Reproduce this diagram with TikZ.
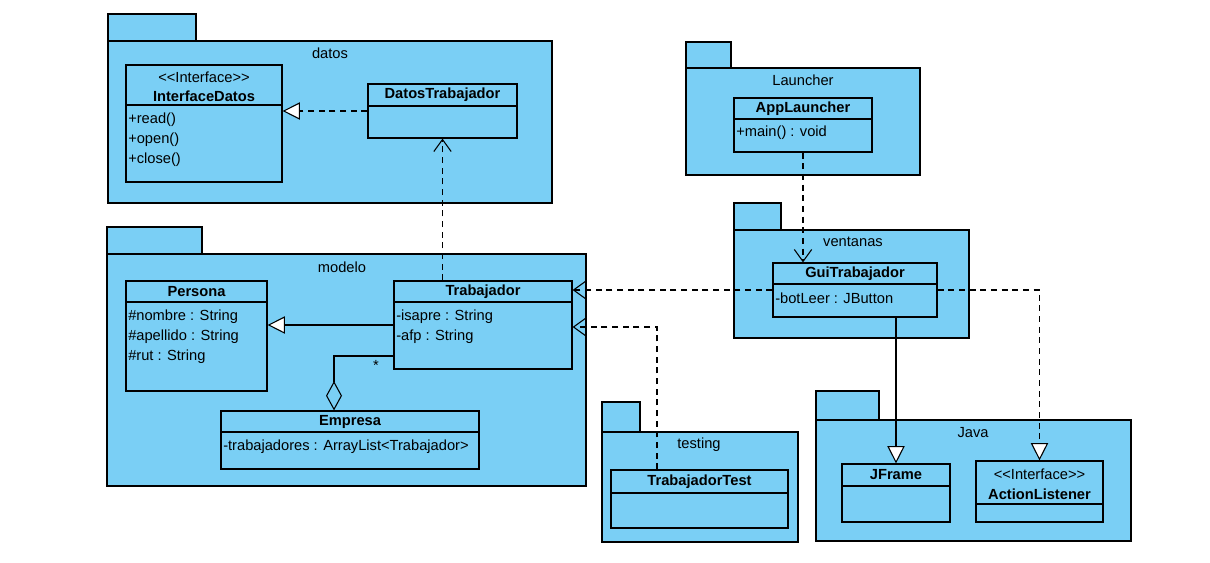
\documentclass[tikz,border=0pt]{standalone}
\usepackage{fontspec}
\setmainfont{Liberation Sans}
\usetikzlibrary{arrows.meta,fit}
\definecolor{pkgblue}{RGB}{122,207,245}

\tikzset{
  pkg/.style={draw, fill=pkgblue, line width=0.9pt},
  cls/.style={draw, fill=pkgblue, line width=0.9pt, inner sep=0pt},
  ctitle/.style={font=\fontsize{11}{13}\selectfont\bfseries, inner sep=0pt},
  attr/.style={anchor=west, inner sep=0pt},
  dep/.style={line width=0.8pt, dash pattern=on 4.5pt off 3.5pt, -{Straight Barb[length=9pt,width=13pt]}},
  real/.style={dep, -{Triangle[fill=white, length=13pt, width=13pt]}},
  gen/.style={line width=0.8pt, -{Triangle[fill=white, length=13pt, width=13pt]}},
  agg/.style={line width=0.8pt, -{Diamond[open, length=22pt, width=12pt]}}
}
\newcommand{\stereo}[1]{<\kern0pt<#1>\kern0pt>}

\begin{document}
\begin{tikzpicture}[x=0.75pt, y=-0.75pt, font=\fontsize{11}{13}\selectfont]
\useasboundingbox (0,0) rectangle (1210,562);

%% packages
\draw[pkg] (108,14) rectangle (196,41);
\draw[pkg] (108,41) rectangle (552,203);
\node (datos-lbl) at (330,53) {datos};

\draw[pkg] (107,227) rectangle (202,254);
\draw[pkg] (107,254) rectangle (586,486);
\node (modelo-lbl) at (342,267) {modelo};

\draw[pkg] (686,42) rectangle (731,68);
\draw[pkg] (686,68) rectangle (920,175);
\node (launcher-lbl) at (803,80) {Launcher};

\draw[pkg] (734,203) rectangle (781,230);
\draw[pkg] (734,230) rectangle (969,338);
\node (ventanas-lbl) at (853,242) {ventanas};

\draw[pkg] (602,402) rectangle (640,432);
\draw[pkg] (602,432) rectangle (798,542);
\node (testing-lbl) at (699,445) {testing};

\draw[pkg] (816,391) rectangle (879,420);
\draw[pkg] (816,420) rectangle (1131,541);
\node (java-lbl) at (973,433) {Java};

%% classes
\node[cls, fit={(126,65) (282,182)}] (ifdatos) {};
\draw[line width=0.9pt] (126,105) -- (282,105);
\node (ifdatos-st) at (204,77) {\stereo{Interface}};
\node[ctitle] (ifdatos-t) at (204,96) {InterfaceDatos};
\node[attr] (ifdatos-m1) at (128,120) {+read()};
\node[attr] (ifdatos-m2) at (128,140) {+open()};
\node[attr] (ifdatos-m3) at (128,160) {+close()};

\node[cls, fit={(368,84) (517,138)}] (datostrab) {};
\draw[line width=0.9pt] (368,106) -- (517,106);
\node[ctitle] (datostrab-t) at (442.5,95) {DatosTrabajador};

\node[cls, fit={(126,281) (267,391)}] (persona) {};
\draw[line width=0.9pt] (126,302) -- (267,302);
\node[ctitle] (persona-t) at (196.5,291.5) {Persona};
\node[attr] (persona-a1) at (128,317) {\#nombre : String};
\node[attr] (persona-a2) at (128,337) {\#apellido : String};
\node[attr] (persona-a3) at (128,357) {\#rut : String};

\node[cls, fit={(394,281) (572,369)}] (trabajador) {};
\draw[line width=0.9pt] (394,302) -- (572,302);
\node[ctitle] (trabajador-t) at (483,291.5) {Trabajador};
\node[attr] (trabajador-a1) at (396,317) {-isapre : String};
\node[attr] (trabajador-a2) at (396,337) {-afp : String};

\node[cls, fit={(221,411) (479,469)}] (empresa) {};
\draw[line width=0.9pt] (221,432) -- (479,432);
\node[ctitle] (empresa-t) at (350,421.5) {Empresa};
\node[attr] (empresa-a1) at (223,447) {-trabajadores : ArrayList<Trabajador>};

\node[cls, fit={(734,98) (872,152)}] (applauncher) {};
\draw[line width=0.9pt] (734,119) -- (872,119);
\node[ctitle] (applauncher-t) at (803,108.5) {AppLauncher};
\node[attr] (applauncher-m1) at (736,133) {+main() : void};

\node[cls, fit={(773,263) (937,317)}] (guitrab) {};
\draw[line width=0.9pt] (773,284) -- (937,284);
\node[ctitle] (guitrab-t) at (855,273.5) {GuiTrabajador};
\node[attr] (guitrab-a1) at (775,298) {-botLeer : JButton};

\node[cls, fit={(611,470) (788,528)}] (trabtest) {};
\draw[line width=0.9pt] (611,493) -- (788,493);
\node[ctitle] (trabtest-t) at (699.5,481.5) {TrabajadorTest};

\node[cls, fit={(842,464) (950,522)}] (jframe) {};
\draw[line width=0.9pt] (842,486) -- (950,486);
\node[ctitle] (jframe-t) at (896,475) {JFrame};

\node[cls, fit={(976,461) (1103,522)}] (actionlist) {};
\draw[line width=0.9pt] (976,504) -- (1103,504);
\node (actionlist-st) at (1039.5,474) {\stereo{Interface}};
\node[ctitle] (actionlist-t) at (1039.5,494) {ActionListener};

%%% relations
\coordinate (aggturn) at (334,356);
\coordinate (testturn) at (657,327);

\draw[real] (datostrab.west) -- (datostrab.west -| ifdatos.east);
\draw[dep] (datostrab.south |- trabajador.north) -- (datostrab.south);
\draw[gen] (trabajador.west) -- (trabajador.west -| persona.east);
\draw[agg] (trabajador.west |- aggturn) -- (aggturn) -- (aggturn |- empresa.north);
\node (mult) at (376,365) {*};

\draw[dep] (applauncher.south) -- (applauncher.south |- guitrab.north);
\draw[dep] (guitrab.west) -- (guitrab.west -| trabajador.east);
\draw[dep] (testturn |- trabtest.north) -- (testturn) -- (testturn -| trabajador.east);
\draw[gen] (guitrab.south -| jframe.north) -- (jframe.north);
\draw[real] (guitrab.east) -| (actionlist.north);

\end{tikzpicture}
\end{document}
